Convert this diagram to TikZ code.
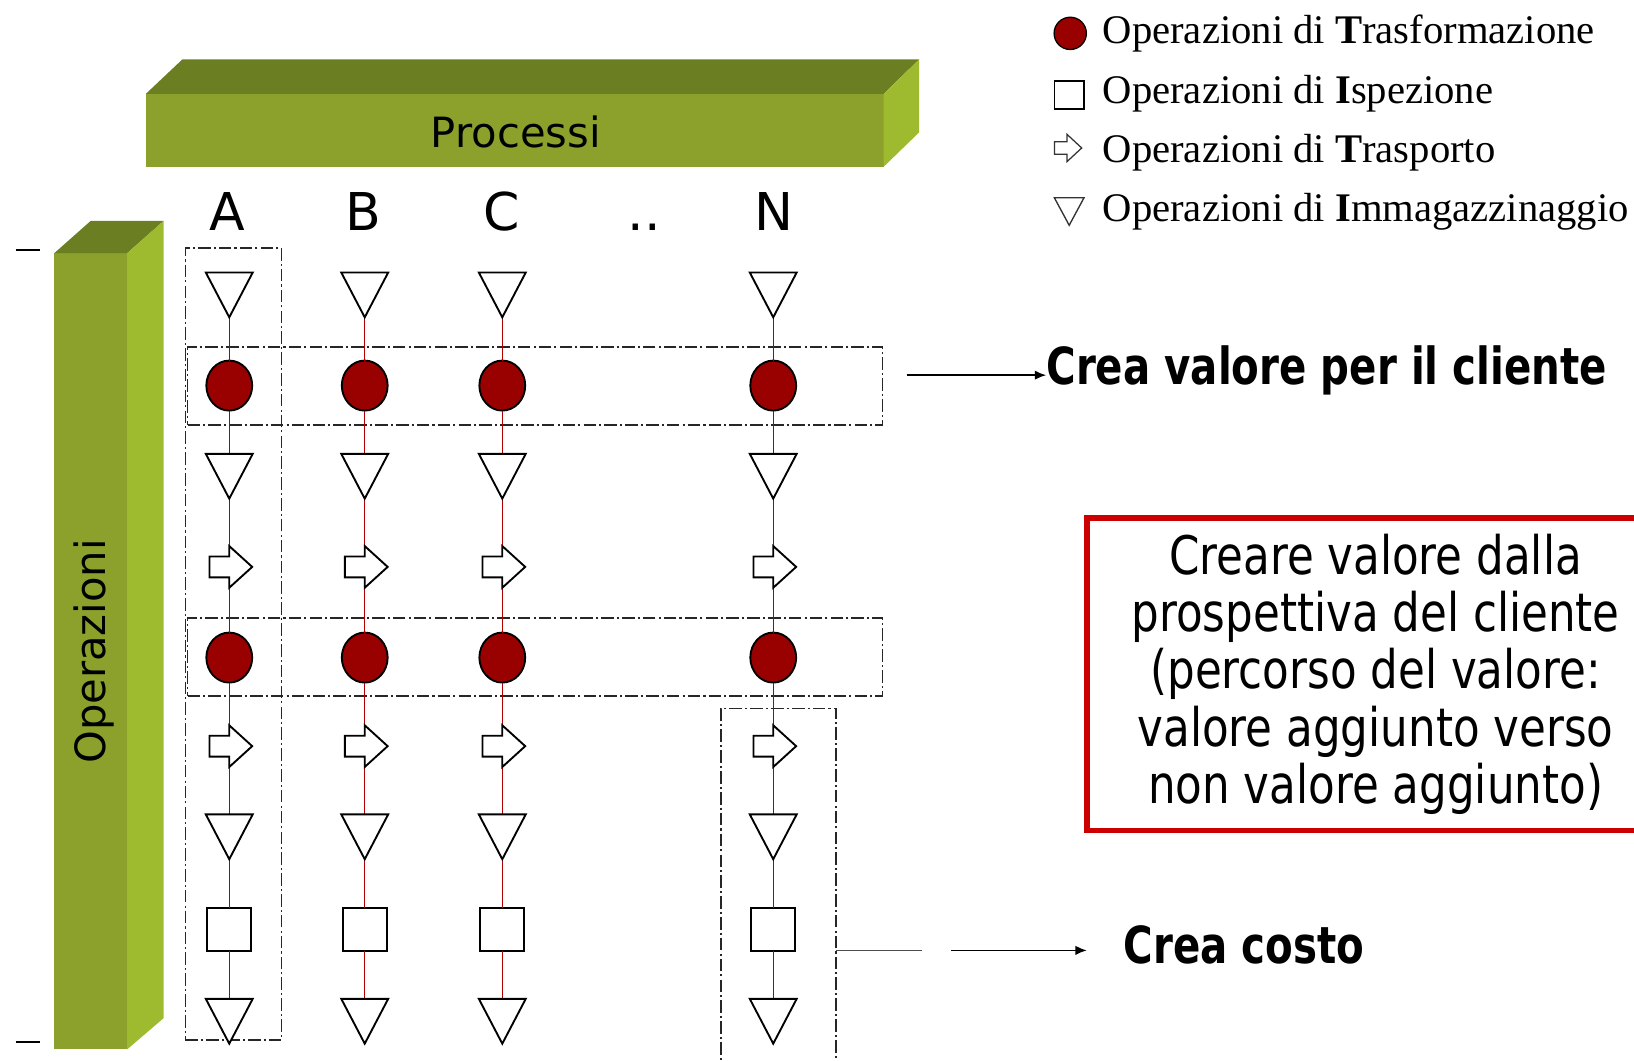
\documentclass[tikz,border=0pt]{standalone}
\usepackage{fontspec}
\setmainfont{DejaVu Sans}
\newfontfamily\condf[FakeStretch=0.82]{DejaVu Sans}
\newfontfamily\condbf[FakeStretch=0.79]{DejaVu Sans Bold}
\newfontfamily\legf{Liberation Serif}
\usetikzlibrary{arrows.meta,shapes.geometric}
\definecolor{barfront}{HTML}{8BA12B}
\definecolor{bartop}{HTML}{6B7F22}
\definecolor{barside}{HTML}{9EBB2F}
\definecolor{opred}{HTML}{990000}
\definecolor{linered}{HTML}{B00000}
\definecolor{boxred}{HTML}{CC0000}
\tikzset{
  slot/.style={draw=none, inner sep=0, outer sep=0, minimum width=45, minimum height=43},
  arrslot/.style={draw=none, inner sep=0, outer sep=0, minimum width=41, minimum height=40},
  circ/.style={ellipse, draw=black, line width=1.8pt, fill=opred, minimum width=44, minimum height=48, inner sep=0, outer sep=0},
  sq/.style={rectangle, draw=black, line width=1.8pt, fill=white, minimum width=42, minimum height=41, inner sep=0, outer sep=0},
  symline/.style={draw=black, line width=1.8pt, fill=white, line join=miter},
  flow/.style={draw=linered, line width=1.4pt},
  grpbox/.style={draw=black!85, line width=1.5pt, dash pattern=on 12pt off 3pt on 2pt off 3pt, inner sep=0, outer sep=0},
  pointer/.style={draw=black, line width=1.6pt, -{Latex[length=11pt,width=9pt]}},
  barlabel/.style={font=\fontsize{40}{44}\selectfont, inner sep=0},
  collabel/.style={font=\fontsize{50}{55}\selectfont, inner sep=0, anchor=base},
  boldtxt/.style={font=\condbf\fontsize{49}{54}\selectfont, inner sep=0},
  legtext/.style={font=\legf\fontsize{39}{43}\selectfont, inner sep=0, anchor=west},
  valbox/.style={draw=boxred, line width=5pt, minimum width=554, minimum height=300, align=center, font=\condf\fontsize{51}{55}\selectfont},
}
\begin{document}
\begin{tikzpicture}[x=1pt,y=-1pt]
\useasboundingbox (0,0) rectangle (1568,1018);

% --- Processi bar
\fill[barfront] (140,90) rectangle (848,160);
\fill[bartop] (140,90) -- (175,57) -- (882,57) -- (848,90) -- cycle;
\fill[barside] (848,90) -- (882,57) -- (882,127) -- (848,160) -- cycle;
\node[barlabel] (proc) at (495,127) {Processi};

% --- Operazioni bar
\fill[barfront] (52,243) rectangle (122,1007);
\fill[bartop] (52,243) -- (87,212) -- (157,212) -- (122,243) -- cycle;
\fill[barside] (122,243) -- (157,212) -- (157,977) -- (122,1007) -- cycle;
\node[barlabel, rotate=90] (oper) at (90,625) {Operazioni};

% ticks
\draw[line width=1.5pt] (15,240) -- (38,240);
\draw[line width=1.5pt] (15,1000) -- (38,1000);

% column labels
\node[collabel] (lA) at (218,221) {A};
\node[collabel] (lB) at (349,221) {B};
\node[collabel] (lC) at (481,221) {C};
\node[collabel] (lD) at (618,221) {..};
\node[collabel] (lN) at (743,221) {N};

% --- group boxes
\node[grpbox, minimum width=92, minimum height=760] (colA) at (224,618) {};
\node[grpbox, minimum width=667, minimum height=75] (row1) at (513.5,370.5) {};
\node[grpbox, minimum width=667, minimum height=75] (row2) at (513.5,630.5) {};
\node[grpbox, minimum width=110, minimum height=360] (colN) at (747,860) {};

% --- symbols
\foreach \c/\x in {A/220,B/350,C/482,N/742}{
  \node[slot] (\c1) at (\x,283) {};
  \node[circ] (\c2) at (\x,370) {};
  \node[slot] (\c3) at (\x,457) {};
  \node[arrslot] (\c4) at (\x,544) {};
  \node[circ] (\c5) at (\x,631) {};
  \node[arrslot] (\c6) at (\x,716) {};
  \node[slot] (\c7) at (\x,803) {};
  \node[sq] (\c8) at (\x,892) {};
  \node[slot] (\c9) at (\x,980) {};
}
\foreach \c in {A,B,C,N}{
  \foreach \i/\j in {1/2,2/3,3/4,4/5,5/6,6/7,7/8,8/9}{
    \draw[flow] (\c\i) -- (\c\j);
  }
  \foreach \k in {1,3,7,9}{
    \draw[symline] (\c\k.north west) -- (\c\k.north east) -- (\c\k.south) -- cycle;
  }
  \foreach \k in {4,6}{
    \draw[symline] (\c\k.center) ++(-19,-10) -- ++(19,0) -- ++(0,-10) -- ++(22,20) -- ++(-22,20) -- ++(0,-10) -- ++(-19,0) -- cycle;
  }
}

% --- right-hand annotations
\node[boldtxt, anchor=west] (crea1) at (1004,355) {Crea valore per il cliente};
\coordinate (p1) at (870,360);
\draw[pointer] (p1) -- (p1 -| crea1.west);

\node[valbox] (vbox) at (1320,647) {Creare valore dalla\\prospettiva del cliente\\(percorso del valore:\\valore aggiunto verso\\non valore aggiunto)};

\coordinate (g1) at (885,912);
\draw[line width=1.5pt, black!70] (g1 -| colN.east) -- (g1);
\coordinate (p2) at (913,912);
\node[boldtxt, anchor=west] (crea2) at (1078,907) {Crea costo};
\coordinate (p2e) at (1043,912);
\draw[pointer] (p2) -- (p2e);

% --- legend
\node[circ, line width=1.2pt, minimum width=31, minimum height=31] (lg1) at (1027,32) {};
\node[sq, line width=1.5pt, minimum width=28, minimum height=27] (lg2) at (1026,91) {};
\node[draw=none, inner sep=0, minimum width=28, minimum height=26] (lg3) at (1024,142) {};
\draw[line width=1.2pt, draw=black!80, fill=white] (lg3.center) ++(-12,-6) -- ++(12,0) -- ++(0,-7) -- ++(14,13) -- ++(-14,13) -- ++(0,-7) -- ++(-12,0) -- cycle;
\node[draw=none, inner sep=0, minimum width=28, minimum height=26] (lg4) at (1026,203) {};
\draw[line width=1.3pt, draw=black!80, fill=white] (lg4.north west) -- (lg4.north east) -- (lg4.south) -- cycle;
\node[legtext] (lt1) at (1058,32) {Operazioni di \textbf{T}rasformazione};
\node[legtext] (lt2) at (1058,90) {Operazioni di \textbf{I}spezione};
\node[legtext] (lt3) at (1058,147) {Operazioni di \textbf{T}rasporto};
\node[legtext] (lt4) at (1058,203) {Operazioni di \textbf{I}mmagazzinaggio};
\end{tikzpicture}
\end{document}
